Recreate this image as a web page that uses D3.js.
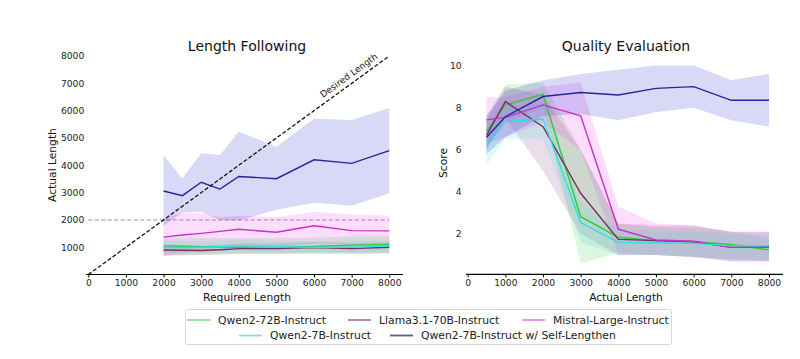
<!DOCTYPE html>
<html><head><meta charset="utf-8">
<script src="https://cdn.jsdelivr.net/npm/d3@7"></script>
<style>body{margin:0;background:#fff;}svg{font-family:"DejaVu Sans",sans-serif;}</style>
</head><body><svg id="c" width="800" height="359"></svg>
<script>
// ---------- data ----------
const seriesNames = ["Qwen2-72B-Instruct","Llama3.1-70B-Instruct","Mistral-Large-Instruct","Qwen2-7B-Instruct","Qwen2-7B-Instruct w/ Self-Lengthen"];
const lineColors = ["#33cc33","#7a2d62","#cc2ccc","#33dddd","#25259c"];
const bandColors = ["#33cc33","#8a3a8a","#ee33ee","#33dddd","#1a1ad0"];
const legendColors = ["#90e090","#b47ab4","#e090e0","#80e0e0","#5a5a9a"];

// Length Following
const reqLength = [2000,2500,3000,3500,4000,5000,6000,7000,8000];
const lfQwen72 = [1050,1040,1020,1010,1000,1020,1030,1080,1100];
const lfQwen72Lo = [700,720,740,760,760,760,770,780,760];
const lfQwen72Hi = [1350,1360,1340,1330,1330,1340,1350,1400,1420];
const lfLlama = [900,890,880,910,950,950,990,950,1000];
const lfLlamaLo = [700,700,720,730,760,760,780,760,780];
const lfLlamaHi = [1100,1080,1060,1090,1140,1140,1200,1150,1200];
const lfMistral = [1370,1450,1510,1580,1660,1550,1790,1610,1600];
const lfMistralLo = [680,800,900,980,1050,1000,1150,1100,1050];
const lfMistralHi = [2050,2250,2250,2100,2150,2100,2300,2200,2150];
const lfQwen7 = [1000,990,1000,1020,1050,1020,1000,1000,1050];
const lfQwen7Lo = [800,800,820,830,850,830,820,820,850];
const lfQwen7Hi = [1250,1230,1220,1240,1270,1240,1220,1230,1260];
const lfSelf = [3060,2890,3380,3130,3590,3510,4200,4070,4540];
const lfSelfLo = [1780,2270,2300,2000,1980,2370,2630,2520,2980];
const lfSelfHi = [4370,3520,4440,4380,5230,4680,5700,5660,6100];
const lfTicks = [0,1000,2000,3000,4000,5000,6000,7000,8000];
const lfYTicks = [1000,2000,3000,4000,5000,6000,7000,8000];

// Quality Evaluation
const actLength = [500,1000,2000,3000,4000,5000,6000,7000,8000];
const qeQwen72 = [6.9,8.13,8.64,2.82,1.84,1.68,1.63,1.5,1.24];
const qeQwen72Lo = [6.2,7.3,8.0,0.6,1.1,1.0,0.9,0.8,0.7];
const qeQwen72Hi = [7.6,9.1,9.2,6.0,2.5,2.3,2.3,2.1,1.8];
const qeLlama = [6.7,8.29,7.1,3.93,1.74,1.68,1.63,1.36,1.39];
const qeLlamaLo = [6.0,7.5,5.0,2.0,1.0,1.0,0.9,0.7,0.7];
const qeLlamaHi = [7.4,9.0,8.6,6.0,2.5,2.4,2.4,2.1,2.1];
const qeMistral = [7.42,7.54,8.13,7.61,2.23,1.71,1.65,1.36,1.36];
const qeMistralLo = [6.3,6.6,7.3,6.0,1.0,1.0,0.9,0.7,0.7];
const qeMistralHi = [8.5,8.5,9.0,9.2,3.3,2.5,2.4,2.1,2.1];
const qeQwen7 = [6.15,7.34,7.45,2.54,1.6,1.58,1.55,1.44,1.43];
const qeQwen7Lo = [5.3,6.5,6.5,1.6,1.0,1.0,0.9,0.8,0.8];
const qeQwen7Hi = [7.0,8.0,8.2,3.5,2.2,2.1,2.1,2.0,2.0];
const qeSelf = [6.59,7.57,8.53,8.72,8.6,8.92,9.0,8.35,8.35];
const qeSelfLo = [5.8,6.6,7.6,7.7,7.4,7.8,8.0,7.4,7.1];
const qeSelfHi = [7.6,8.8,9.3,9.6,9.8,10.0,10.0,9.3,9.6];
const qeXTicks = [0,1000,2000,3000,4000,5000,6000,7000,8000];
const qeYTicks = [2,4,6,8,10];

// ---------- drawing ----------
const svg = d3.select("#c");
const lf = {
  x: reqLength,
  mean:[lfQwen72,lfLlama,lfMistral,lfQwen7,lfSelf],
  lo:[lfQwen72Lo,lfLlamaLo,lfMistralLo,lfQwen7Lo,lfSelfLo],
  hi:[lfQwen72Hi,lfLlamaHi,lfMistralHi,lfQwen7Hi,lfSelfHi]
};
const qe = {
  x: actLength,
  mean:[qeQwen72,qeLlama,qeMistral,qeQwen7,qeSelf],
  lo:[qeQwen72Lo,qeLlamaLo,qeMistralLo,qeQwen7Lo,qeSelfLo],
  hi:[qeQwen72Hi,qeLlamaHi,qeMistralHi,qeQwen7Hi,qeSelfHi]
};

function drawPanel(opt){
  const g = svg.append("g");
  const x = d3.scaleLinear().domain([0,8000]).range(opt.xr);
  const y = d3.scaleLinear().domain(opt.yd).range(opt.yr);
  const d = opt.data;
  if (opt.pre) opt.pre(g,x,y);
  d.mean.forEach((m,i)=>{
    const area = d3.area().x((v,j)=>x(d.x[j])).y0((v,j)=>y(d.lo[i][j])).y1((v,j)=>y(d.hi[i][j]));
    g.append("path").attr("d",area(m)).attr("fill",bandColors[i]).attr("fill-opacity",0.17).attr("stroke","none");
  });
  d.mean.forEach((m,i)=>{
    const line = d3.line().x((v,j)=>x(d.x[j])).y(v=>y(v));
    g.append("path").attr("d",line(m)).attr("fill","none").attr("stroke",lineColors[i]).attr("stroke-width",1.4);
  });
  if (opt.post) opt.post(g,x,y);
  const ax = g.append("g").attr("transform",`translate(0,${opt.axisY})`)
    .call(d3.axisBottom(x).tickValues(opt.xTicks).tickSize(3).tickPadding(2).tickFormat(d3.format("d")));
  ax.select(".domain").attr("d",`M${opt.axisX[0]},0H${opt.axisX[1]}`).attr("stroke","#000").attr("stroke-width",1.2);
  ax.selectAll(".tick text").attr("font-size",9.2).attr("fill","#222").attr("font-family","DejaVu Sans");
  ax.selectAll(".tick line").attr("stroke","#000");
  const ay = g.append("g").attr("transform",`translate(${opt.xr[0]},0)`)
    .call(d3.axisLeft(y).tickValues(opt.yTicks).tickSize(0).tickPadding(opt.yPad).tickFormat(d3.format("d")));
  ay.select(".domain").remove();
  ay.selectAll(".tick text").attr("font-size",9.2).attr("fill","#222").attr("font-family","DejaVu Sans");
  g.append("text").attr("x",opt.titleX).attr("y",51).attr("text-anchor","middle").attr("font-size",14).attr("fill","#111").text(opt.title);
  g.append("text").attr("x",opt.titleX).attr("y",301).attr("text-anchor","middle").attr("font-size",10.7).attr("fill","#111").text(opt.xlabel);
  g.append("text").attr("transform",`translate(${opt.ylabX},${opt.ylabY}) rotate(-90)`).attr("text-anchor","middle").attr("font-size",10.7).attr("fill","#111").text(opt.ylabel);
}

drawPanel({
  data: lf, xr:[88.3,389.3], yd:[0,8000], yr:[274.6,56], axisY:274.5, axisX:[86,403],
  xTicks: lfTicks, yTicks: lfYTicks, yPad: 4,
  title:"Length Following", xlabel:"Required Length", ylabel:"Actual Length",
  titleX:247, ylabX:56, ylabY:165,
  pre:(g,x,y)=>{
    g.append("line").attr("x1",x(0)).attr("x2",x(8000)).attr("y1",y(2000)).attr("y2",y(2000))
      .attr("stroke","#777").attr("stroke-width",0.8).attr("stroke-dasharray","4,2.5");
  },
  post:(g,x,y)=>{
    g.append("line").attr("x1",x(0)).attr("y1",y(0)).attr("x2",x(8000)).attr("y2",y(8000))
      .attr("stroke","#111").attr("stroke-width",1.3).attr("stroke-dasharray","4,2");
    const ang = Math.atan2(y(8000)-y(0), x(8000)-x(0))*180/Math.PI;
    g.append("text").attr("transform",`translate(${x(7050)},${y(7050)}) rotate(${ang})`)
      .attr("dy",-5).attr("text-anchor","middle").attr("font-size",9).attr("fill","#222").text("Desired Length");
  }
});

drawPanel({
  data: qe, xr:[467.7,769], yd:[0,10], yr:[276,65.6], axisY:274.3, axisX:[466,783],
  xTicks: qeXTicks, yTicks: qeYTicks, yPad: 6,
  title:"Quality Evaluation", xlabel:"Actual Length", ylabel:"Score",
  titleX:626, ylabX:447, ylabY:163
});

// legend
const lg = svg.append("g");
lg.append("rect").attr("x",185.5).attr("y",309.5).attr("width",486).attr("height",35).attr("rx",2)
  .attr("fill","#fff").attr("stroke","#ccc").attr("stroke-width",0.8);
const legPos = [[187,320],[348,320],[522,320],[239,335.5],[390,335.5]];
seriesNames.forEach((n,i)=>{
  const [lx,ly] = legPos[i];
  lg.append("line").attr("x1",lx).attr("x2",lx+23).attr("y1",ly).attr("y2",ly).attr("stroke",legendColors[i]).attr("stroke-width",1.8);
  lg.append("text").attr("x",lx+31).attr("y",ly+3.8).attr("font-size",10.8).attr("fill","#222").text(n);
});
</script></body></html>
